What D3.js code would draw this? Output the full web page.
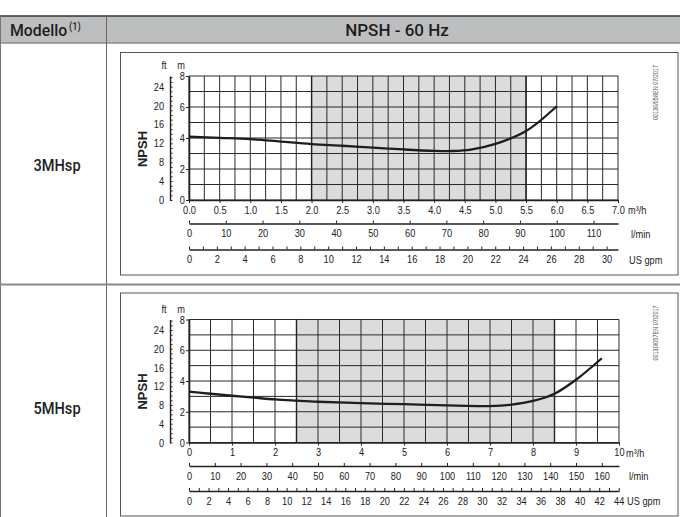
<!DOCTYPE html>
<html>
<head>
<meta charset="utf-8">
<script src="https://cdn.jsdelivr.net/npm/d3@7"></script>
<style>
  html, body { margin: 0; padding: 0; background: #fff; }
  svg { display: block; }
  .tk text { font-family: 'Liberation Sans', Arial, sans-serif; font-size: 11px; fill: #222; }
  .lbl { font-family: 'Liberation Sans', Arial, sans-serif; font-size: 11px; fill: #222; }
  .hdr { font-family: Roboto, 'Noto Sans', sans-serif; font-weight: 500; fill: #1e1e1e; }
</style>
</head>
<body>
<div id="chart"></div>
<script>
// ---------------- DATA ----------------
const headerLabels = ["Modello", "NPSH - 60 Hz"];
const modelNames = ["3MHsp", "5MHsp"];

// 3MHsp NPSH curve (flow m3/h, NPSH m)
const flow3MHsp = [0, 0.5, 1.0, 1.5, 2.0, 2.5, 3.0, 3.5, 4.0, 4.3, 4.6, 5.0, 5.5, 6.0];
const npsh3MHsp = [4.08, 4.01, 3.93, 3.77, 3.61, 3.5, 3.38, 3.26, 3.17, 3.16, 3.25, 3.62, 4.45, 6.05];
const shade3MHsp = [2.0, 5.5];

// 5MHsp NPSH curve
const flow5MHsp = [0, 0.5, 1, 1.5, 2, 2.5, 3, 4, 5, 6, 7, 7.5, 8, 8.5, 9, 9.6];
const npsh5MHsp = [3.31, 3.17, 3.04, 2.92, 2.8, 2.72, 2.65, 2.56, 2.49, 2.41, 2.37, 2.46, 2.7, 3.17, 4.08, 5.48];
const shade5MHsp = [2.5, 8.5];

// Tick labels
const mTicks = [0, 2, 4, 6, 8];
const ftTicks = [0, 4, 8, 12, 16, 20, 24];
const flowTicks3 = [0, 0.5, 1.0, 1.5, 2.0, 2.5, 3.0, 3.5, 4.0, 4.5, 5.0, 5.5, 6.0, 6.5, 7.0];
const flowTicks5 = [0, 1, 2, 3, 4, 5, 6, 7, 8, 9, 10];
const lpmTicks3 = [0, 10, 20, 30, 40, 50, 60, 70, 80, 90, 100, 110];
const lpmTicks5 = [0, 10, 20, 30, 40, 50, 60, 70, 80, 90, 100, 110, 120, 130, 140, 150, 160];
const gpmTicks3 = d3.range(0, 31, 1);
const gpmTicks5 = d3.range(0, 45, 1);
const unitLabels = ["m³/h", "l/min", "US gpm"];
const codes = ["00130/058EN 07/2017", "00130/057EN 07/2017"];

// ---------------- LAYOUT ----------------
const W = 680, H = 517;
const NARROW = "scale(0.84,1)";
const svg = d3.select("#chart").append("svg").attr("width", W).attr("height", H);

// Table header
svg.append("rect").attr("x", 0).attr("y", 16).attr("width", W).attr("height", 27).attr("fill", "#bdbec0");
svg.append("line").attr("x1", 0).attr("x2", W).attr("y1", 16).attr("y2", 16).attr("stroke", "#333").attr("stroke-width", 1.5);
svg.append("line").attr("x1", 0).attr("x2", W).attr("y1", 43).attr("y2", 43).attr("stroke", "#8a8a8a").attr("stroke-width", 1.5);
svg.append("line").attr("x1", 106.5).attr("x2", 106.5).attr("y1", 16).attr("y2", H).attr("stroke", "#666").attr("stroke-width", 1);
svg.append("line").attr("x1", 0.5).attr("x2", 0.5).attr("y1", 16).attr("y2", H).attr("stroke", "#777").attr("stroke-width", 1);
svg.append("line").attr("x1", 0).attr("x2", W).attr("y1", 284.5).attr("y2", 284.5).attr("stroke", "#8a8a8a").attr("stroke-width", 2);

const h1 = svg.append("text").attr("class", "hdr").attr("transform", "translate(10,36) scale(0.93,1)").attr("font-size", 17);
h1.append("tspan").text(headerLabels[0]);
h1.append("tspan").attr("font-size", 10).attr("dy", -6).attr("dx", 2).text("(1)");
svg.append("text").attr("class", "hdr").attr("x", 397).attr("y", 36).attr("font-size", 17)
  .attr("text-anchor", "middle").text(headerLabels[1]);

const charts = [
  { name: modelNames[0], q: flow3MHsp, h: npsh3MHsp, shade: shade3MHsp, xMax: 7, gridStep: 0.25,
    flowTicks: flowTicks3, fmt: d3.format(".1f"), lpm: lpmTicks3, gpm: gpmTicks3, code: codes[0],
    frame: { x0: 120.5, y0: 52.5, x1: 678, y1: 275 }, plot: { x0: 189, x1: 618, y0: 76, y1: 200 },
    lpmY: 223.5, gpmY: 249.5, nameY: 171, unitX: 628 },
  { name: modelNames[1], q: flow5MHsp, h: npsh5MHsp, shade: shade5MHsp, xMax: 10, gridStep: 0.5,
    flowTicks: flowTicks5, fmt: d3.format("d"), lpm: lpmTicks5, gpm: gpmTicks5, code: codes[1],
    frame: { x0: 120.5, y0: 293, x1: 678, y1: 516 }, plot: { x0: 189, x1: 619, y0: 319.5, y1: 442.5 },
    lpmY: 466, gpmY: 491, nameY: 414, unitX: 626 }
];

function narrowText(sel) {
  sel.selectAll("text").attr("transform", NARROW);
}

charts.forEach(c => {
  const g = svg.append("g");
  const x = d3.scaleLinear().domain([0, c.xMax]).range([c.plot.x0, c.plot.x1]);
  const y = d3.scaleLinear().domain([0, 8]).range([c.plot.y1, c.plot.y0]);

  // model name
  svg.append("text").attr("class", "hdr").attr("transform", `translate(57,${c.nameY}) scale(0.86,1)`).attr("font-size", 17)
    .attr("font-weight", 400).attr("text-anchor", "middle").text(c.name);

  // frame
  g.append("rect").attr("x", c.frame.x0).attr("y", c.frame.y0)
    .attr("width", c.frame.x1 - c.frame.x0).attr("height", c.frame.y1 - c.frame.y0)
    .attr("fill", "none").attr("stroke", "#555").attr("stroke-width", 1);

  // shading
  g.append("rect").attr("x", x(c.shade[0])).attr("y", y(8))
    .attr("width", x(c.shade[1]) - x(c.shade[0])).attr("height", y(0) - y(8))
    .attr("fill", "#dcdcdc");

  // grid
  const vg = d3.range(0, c.xMax + 1e-9, c.gridStep);
  g.append("g").selectAll("line").data(vg).join("line")
    .attr("x1", d => x(d)).attr("x2", d => x(d)).attr("y1", y(8)).attr("y2", y(0))
    .attr("stroke", "#2a2a2a").attr("stroke-width", 1);
  g.append("g").selectAll("line").data(d3.range(0, 9)).join("line")
    .attr("x1", x(0)).attr("x2", x(c.xMax)).attr("y1", d => y(d)).attr("y2", d => y(d))
    .attr("stroke", "#2a2a2a").attr("stroke-width", 1);
  g.append("g").selectAll("line").data(c.shade).join("line")
    .attr("x1", d => x(d)).attr("x2", d => x(d)).attr("y1", y(8)).attr("y2", y(0))
    .attr("stroke", "#222").attr("stroke-width", 1.4);

  // x axis (m3/h)
  const xa = g.append("g").attr("class", "tk").attr("transform", `translate(0,${y(0)})`)
    .call(d3.axisBottom(x).tickValues(c.flowTicks).tickFormat(c.fmt).tickSize(3).tickPadding(3).tickSizeOuter(0));
  xa.select(".domain").attr("stroke", "#222").attr("stroke-width", 1.6);
  xa.selectAll(".tick line").attr("stroke", "#222");
  narrowText(xa);

  // m axis (left)
  const ya = g.append("g").attr("class", "tk").attr("transform", `translate(${x(0)},0)`)
    .call(d3.axisLeft(y).tickValues(mTicks).tickSize(3).tickPadding(2).tickSizeOuter(0));
  ya.select(".domain").attr("stroke", "#222").attr("stroke-width", 1.6);
  ya.selectAll(".tick line").attr("stroke", "#222");
  narrowText(ya);

  // ft axis
  const ft = d3.scaleLinear().domain([0, 8 / 0.3048]).range([y(0), y(8)]);
  const ftX = 170;
  const fa = g.append("g").attr("transform", `translate(${ftX},0)`)
    .call(d3.axisRight(ft).tickValues(d3.range(0, 27, 1)).tickFormat("").tickSize(2.5).tickSizeOuter(0));
  fa.select(".domain").attr("stroke", "#222").attr("stroke-width", 1.4);
  fa.selectAll(".tick line").attr("stroke", "#222");
  const fl = g.append("g").attr("class", "tk").attr("transform", `translate(${ftX},0)`)
    .call(d3.axisLeft(ft).tickValues(ftTicks).tickSize(0).tickPadding(7));
  fl.select(".domain").remove();
  narrowText(fl);

  g.append("text").attr("class", "lbl").attr("transform", `translate(164,${y(8) - 7}) ${NARROW}`)
    .attr("text-anchor", "middle").attr("font-size", 10).text("ft");
  g.append("text").attr("class", "lbl").attr("transform", `translate(181,${y(8) - 7}) ${NARROW}`)
    .attr("text-anchor", "middle").attr("font-size", 10).text("m");
  g.append("text").attr("transform", `translate(${147},${y(0) - 51}) rotate(-90)`)
    .attr("text-anchor", "middle").attr("font-family", "'Liberation Sans', Arial, sans-serif")
    .attr("font-weight", "bold").attr("font-size", 13).attr("fill", "#222").text("NPSH");

  // curve
  g.append("path").datum(c.q.map((q, i) => [q, c.h[i]]))
    .attr("d", d3.line().x(d => x(d[0])).y(d => y(d[1])).curve(d3.curveCatmullRom))
    .attr("fill", "none").attr("stroke", "#1e1e1e").attr("stroke-width", 2.3);

  // l/min axis
  const xl = d3.scaleLinear().domain([0, c.xMax / 0.06]).range([c.plot.x0, c.plot.x1]);
  const la = g.append("g").attr("class", "tk").attr("transform", `translate(0,${c.lpmY})`)
    .call(d3.axisBottom(xl).tickValues(c.lpm).tickSize(-3).tickPadding(6).tickSizeOuter(0));
  la.select(".domain").attr("stroke", "#222").attr("stroke-width", 1.4);
  la.selectAll(".tick line").attr("stroke", "#222");
  narrowText(la);

  // US gpm axis
  const xg = d3.scaleLinear().domain([0, c.xMax / 0.2271247]).range([c.plot.x0, c.plot.x1]);
  const ga = g.append("g").attr("class", "tk").attr("transform", `translate(0,${c.gpmY})`)
    .call(d3.axisBottom(xg).tickValues(c.gpm).tickFormat(d => d % 2 === 0 ? d : "").tickSize(-3).tickPadding(6).tickSizeOuter(0));
  ga.select(".domain").attr("stroke", "#222").attr("stroke-width", 1.4);
  ga.selectAll(".tick line").attr("stroke", "#222");
  narrowText(ga);

  // units
  g.append("text").attr("class", "lbl").attr("transform", `translate(${c.unitX},${y(0) + 14}) ${NARROW}`).text(unitLabels[0]);
  g.append("text").attr("class", "lbl").attr("transform", `translate(${c.unitX + 3},${c.lpmY + 14}) ${NARROW}`).text(unitLabels[1]);
  g.append("text").attr("class", "lbl").attr("transform", `translate(${c.unitX + 1},${c.gpmY + 14}) ${NARROW}`).text(unitLabels[2]);

  // code
  g.append("text").attr("transform", `translate(${658},${c.frame.y0 + 40}) rotate(-90) scale(0.85,1)`)
    .attr("text-anchor", "middle").attr("font-family", "'Liberation Sans', sans-serif")
    .attr("font-size", 6.5).attr("fill", "#555").text(c.code);
});
</script>
</body>
</html>
